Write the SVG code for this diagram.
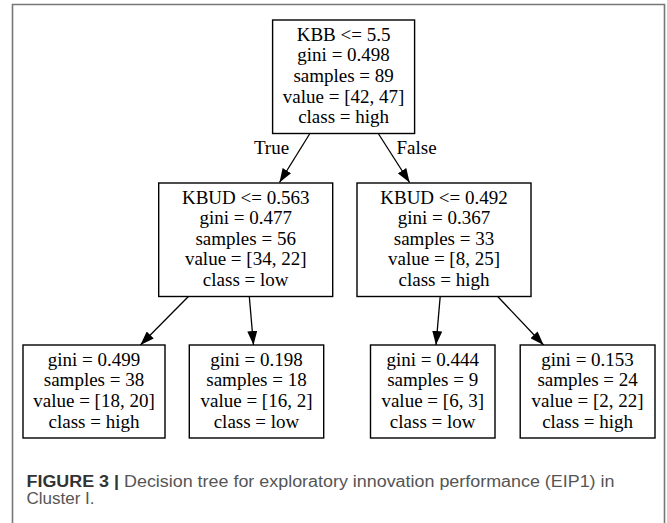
<svg xmlns="http://www.w3.org/2000/svg" width="667" height="523" viewBox="0 0 667 523">
  <style>
    .node rect { fill: #ffffff; stroke: #000000; stroke-width: 1.4; }
    .node text { font-family: "Liberation Serif", "Times New Roman", serif; font-size: 19px; fill: #000000; text-anchor: middle; }
    .edge line { stroke: #000000; stroke-width: 1.3; }
    .elabel { font-family: "Liberation Serif", "Times New Roman", serif; font-size: 19px; fill: #000000; }
    .cap { font-family: "Liberation Sans", Arial, Helvetica, sans-serif; font-size: 16px; fill: #555555; }
    .cap .bold { font-weight: bold; fill: #333333; }
  </style>
  <defs>
    <marker id="arrow" viewBox="0 0 14 10" refX="14" refY="5" markerWidth="14" markerHeight="10" markerUnits="userSpaceOnUse" orient="auto">
      <path d="M0,0 L14,5 L0,10 Z" fill="#000000"/>
    </marker>
  </defs>

  <rect x="0" y="0" width="667" height="523" fill="#ffffff"/>
  <!-- figure frame -->
  <path d="M12.5,530 L12.5,4.5 L664.5,4.5 L664.5,530" fill="none" stroke="#777777" stroke-width="1.6"/>

  <!-- connectors -->
  <g id="edges" class="edge">
    <line x1="309.6" y1="134" x2="279.5" y2="182.5" marker-end="url(#arrow)"/>
    <line x1="378.6" y1="134" x2="409.6" y2="182.5" marker-end="url(#arrow)"/>
    <line x1="188.4" y1="296.5" x2="140.4" y2="345" marker-end="url(#arrow)"/>
    <line x1="249.3" y1="296.5" x2="253.5" y2="345" marker-end="url(#arrow)"/>
    <line x1="440.2" y1="296.5" x2="436" y2="345" marker-end="url(#arrow)"/>
    <line x1="497.7" y1="296.5" x2="543.6" y2="345" marker-end="url(#arrow)"/>
    <text class="elabel" x="271.5" y="154" text-anchor="middle">True</text>
    <text class="elabel" x="396.5" y="154">False</text>
  </g>

  <!-- root split -->
  <g id="node0" class="node">
    <rect x="272.6" y="20" width="142" height="113.5"/>
    <text x="343.6" y="40.7">KBB &lt;= 5.5</text>
    <text x="343.6" y="61.3">gini = 0.498</text>
    <text x="343.6" y="81.9">samples = 89</text>
    <text x="343.6" y="102.5">value = [42, 47]</text>
    <text x="343.6" y="123.1">class = high</text>
  </g>

  <g id="node1" class="node">
    <rect x="158.7" y="183" width="174" height="113.5"/>
    <text x="245.7" y="203.5">KBUD &lt;= 0.563</text>
    <text x="245.7" y="224.1">gini = 0.477</text>
    <text x="245.7" y="244.7">samples = 56</text>
    <text x="245.7" y="265.3">value = [34, 22]</text>
    <text x="245.7" y="285.9">class = low</text>
  </g>

  <g id="node4" class="node">
    <rect x="357" y="183" width="174" height="113.5"/>
    <text x="444" y="203.5">KBUD &lt;= 0.492</text>
    <text x="444" y="224.1">gini = 0.367</text>
    <text x="444" y="244.7">samples = 33</text>
    <text x="444" y="265.3">value = [8, 25]</text>
    <text x="444" y="285.9">class = high</text>
  </g>

  <!-- leaves -->
  <g id="node2" class="node">
    <rect x="23" y="345" width="142" height="93"/>
    <text x="94" y="365.7">gini = 0.499</text>
    <text x="94" y="386.3">samples = 38</text>
    <text x="94" y="406.9">value = [18, 20]</text>
    <text x="94" y="427.5">class = high</text>
  </g>

  <g id="node3" class="node">
    <rect x="189.3" y="345" width="134.4" height="93"/>
    <text x="256.5" y="365.7">gini = 0.198</text>
    <text x="256.5" y="386.3">samples = 18</text>
    <text x="256.5" y="406.9">value = [16, 2]</text>
    <text x="256.5" y="427.5">class = low</text>
  </g>

  <g id="node5" class="node">
    <rect x="370.5" y="345" width="124.5" height="93"/>
    <text x="432.7" y="365.7">gini = 0.444</text>
    <text x="432.7" y="386.3">samples = 9</text>
    <text x="432.7" y="406.9">value = [6, 3]</text>
    <text x="432.7" y="427.5">class = low</text>
  </g>

  <g id="node6" class="node">
    <rect x="520.2" y="345" width="134.8" height="93"/>
    <text x="587.6" y="365.7">gini = 0.153</text>
    <text x="587.6" y="386.3">samples = 24</text>
    <text x="587.6" y="406.9">value = [2, 22]</text>
    <text x="587.6" y="427.5">class = high</text>
  </g>

  <!-- caption -->
  <text class="cap" x="26.5" y="486.5" textLength="588" lengthAdjust="spacingAndGlyphs"><tspan class="bold">FIGURE 3 |</tspan> Decision tree for exploratory innovation performance (EIP1) in</text>
  <text class="cap" x="26.5" y="503.5" textLength="68" lengthAdjust="spacingAndGlyphs">Cluster I.</text>
</svg>
